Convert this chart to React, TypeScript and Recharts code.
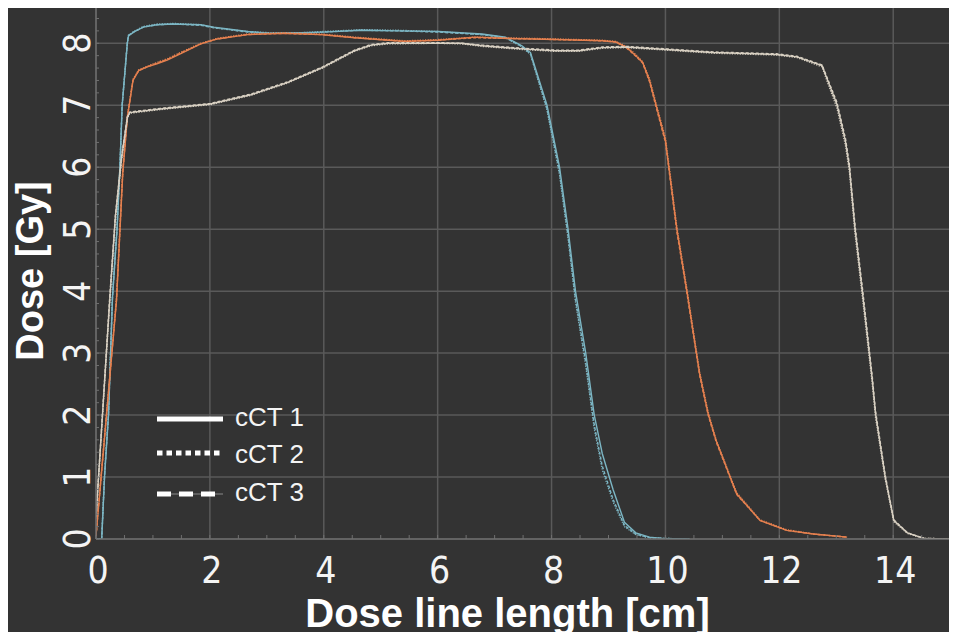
import React from 'react';
import { LineChart, Line, XAxis, YAxis, CartesianGrid, Legend } from 'recharts';

// Depth-dose profiles along the dose line, three fields x three cCT scans
const cyanX = [0, 0.1, 0.15, 0.22, 0.29, 0.37, 0.42, 0.46, 0.55, 0.57, 0.66, 0.83, 1.07, 1.36, 1.84, 2.07, 2.66, 3.07, 3.6, 3.98, 4.66, 5.3, 6.01, 6.78, 7.19, 7.48, 7.63, 7.92, 8.14, 8.29, 8.42, 8.6, 8.75, 8.89, 9.08, 9.28, 9.48, 9.72, 9.95, 10.42];
const cyanCT1 = [0, 0, 1.0, 2.0, 3.9, 5.0, 6.0, 7.0, 8.0, 8.12, 8.18, 8.26, 8.3, 8.31, 8.3, 8.26, 8.19, 8.16, 8.17, 8.18, 8.21, 8.2, 8.19, 8.15, 8.1, 7.96, 7.85, 7.0, 6.0, 5.0, 4.0, 3.0, 2.0, 1.38, 0.8, 0.27, 0.1, 0.03, 0.01, 0];
const cyanCT2 = [0, 0, 1.05, 2.05, 3.95, 5.05, 6.0, 7.0, 8.0, 8.12, 8.19, 8.27, 8.31, 8.32, 8.3, 8.25, 8.19, 8.17, 8.17, 8.19, 8.22, 8.21, 8.19, 8.14, 8.09, 7.94, 7.82, 6.92, 5.88, 4.85, 3.83, 2.8, 1.78, 1.12, 0.6, 0.2, 0.07, 0.02, 0.01, 0];
const cyanCT3 = [0, 0, 1.02, 2.02, 3.92, 5.02, 6.02, 7.02, 8.01, 8.13, 8.18, 8.26, 8.3, 8.31, 8.29, 8.25, 8.18, 8.16, 8.16, 8.18, 8.21, 8.2, 8.18, 8.14, 8.09, 7.95, 7.83, 6.95, 5.92, 4.9, 3.88, 2.86, 1.84, 1.18, 0.64, 0.22, 0.08, 0.02, 0.01, 0];

const orangeX = [0, 0.36, 0.47, 0.55, 0.65, 0.75, 0.9, 1.07, 1.25, 1.48, 1.84, 2.13, 2.66, 3.3, 3.95, 4.54, 5.13, 5.42, 6.01, 6.66, 7.13, 8.07, 8.89, 9.13, 9.31, 9.48, 9.6, 9.72, 9.83, 10.0, 10.06, 10.2, 10.38, 10.6, 10.75, 10.89, 11.25, 11.66, 12.13, 12.6, 13.19];
const orangeCT1 = [0.05, 3.85, 5.9, 6.8, 7.4, 7.56, 7.62, 7.67, 7.73, 7.83, 7.99, 8.07, 8.14, 8.16, 8.14, 8.09, 8.05, 8.03, 8.05, 8.1, 8.08, 8.06, 8.04, 8.02, 7.94, 7.8, 7.69, 7.4, 7.02, 6.43, 6.0, 5.0, 3.98, 2.67, 2.02, 1.59, 0.73, 0.3, 0.14, 0.08, 0.03];
const orangeCT2 = [0.06, 3.9, 5.95, 6.82, 7.42, 7.57, 7.63, 7.69, 7.75, 7.85, 8.0, 8.08, 8.15, 8.17, 8.15, 8.1, 8.06, 8.04, 8.06, 8.1, 8.09, 8.07, 8.05, 8.03, 7.95, 7.82, 7.7, 7.43, 7.05, 6.47, 6.05, 5.04, 4.02, 2.7, 2.05, 1.6, 0.75, 0.31, 0.15, 0.08, 0.03];
const orangeCT3 = [0.05, 3.86, 5.92, 6.8, 7.41, 7.56, 7.62, 7.68, 7.74, 7.84, 7.99, 8.07, 8.14, 8.16, 8.14, 8.09, 8.05, 8.03, 8.05, 8.09, 8.08, 8.06, 8.04, 8.02, 7.93, 7.79, 7.68, 7.38, 6.99, 6.4, 5.97, 4.96, 3.95, 2.64, 2.0, 1.57, 0.72, 0.3, 0.14, 0.08, 0.03];

const beigeX = [0, 0.24, 0.34, 0.45, 0.55, 0.59, 1.13, 2.01, 2.72, 3.37, 3.98, 4.54, 4.83, 5.13, 6.01, 6.42, 6.78, 7.48, 8.07, 8.48, 8.89, 9.31, 10.01, 10.83, 11.95, 12.31, 12.75, 12.85, 13.01, 13.16, 13.23, 13.33, 13.46, 13.63, 13.69, 13.86, 14.01, 14.25, 14.54, 15.12];
const beigeCT1 = [0.35, 3.85, 5.2, 6.16, 6.8, 6.88, 6.94, 7.02, 7.17, 7.37, 7.61, 7.88, 7.97, 8.0, 8.0, 8.0, 7.96, 7.91, 7.88, 7.88, 7.93, 7.94, 7.9, 7.85, 7.82, 7.78, 7.64, 7.4, 7.02, 6.43, 6.0, 5.0, 3.98, 2.59, 2.02, 1.0, 0.3, 0.1, 0.01, 0];
const beigeCT2 = [0.33, 3.8, 5.15, 6.12, 6.78, 6.87, 6.93, 7.01, 7.16, 7.36, 7.6, 7.87, 7.96, 7.99, 8.0, 7.99, 7.95, 7.9, 7.87, 7.87, 7.92, 7.93, 7.89, 7.84, 7.81, 7.77, 7.62, 7.36, 6.96, 6.36, 5.93, 4.92, 3.9, 2.52, 1.96, 0.96, 0.28, 0.09, 0.01, 0];
const beigeCT3 = [0.36, 3.88, 5.22, 6.18, 6.81, 6.89, 6.95, 7.03, 7.18, 7.38, 7.62, 7.89, 7.98, 8.01, 8.01, 8.0, 7.97, 7.92, 7.89, 7.89, 7.94, 7.95, 7.91, 7.86, 7.83, 7.79, 7.65, 7.42, 7.05, 6.47, 6.05, 5.06, 4.04, 2.64, 2.06, 1.03, 0.31, 0.1, 0.01, 0];

const legendNames = ['cCT 1', 'cCT 2', 'cCT 3'];
const xMajor = [0, 2, 4, 6, 8, 10, 12, 14];
const yMajor = [0, 1, 2, 3, 4, 5, 6, 7, 8];
const xTicks = Array.from({ length: 31 }, (_, i) => i / 2);
const yTicks = Array.from({ length: 44 }, (_, i) => i / 5);

const rows = (xs: number[], a: number[], b: number[], c: number[]) =>
  xs.map((x, i) => ({ x, ct1: a[i], ct2: b[i], ct3: c[i] }));

const curves = [
  { color: '#7cb6c4', data: rows(cyanX, cyanCT1, cyanCT2, cyanCT3) },
  { color: '#e5804f', data: rows(orangeX, orangeCT1, orangeCT2, orangeCT3) },
  { color: '#d8d0c2', data: rows(beigeX, beigeCT1, beigeCT2, beigeCT3) },
];

const dashes = [undefined, '1.2 1.4', '3 2'];
const legendDashes = [undefined, '5.5 4', '14 8'];

const narrow = "'Liberation Sans Narrow', 'DejaVu Sans Condensed', sans-serif";
const sans = "'Liberation Sans', Arial, sans-serif";

const isWhole = (v: number) => Math.abs(v - Math.round(v)) < 1e-6;

const XTick = ({ x, y, payload }: any) => {
  const v = payload.value;
  return (
    <g>
      <line x1={x} x2={x} y1={y} y2={y - 4} stroke="#707070" strokeWidth={1} />
      {isWhole(v) && Math.round(v) % 2 === 0 && (
        <text x={x + 2} y={y + 44} textAnchor="middle" fill="#f4f4f4" fontSize={37} fontFamily={narrow}>
          {Math.round(v)}
        </text>
      )}
    </g>
  );
};

const YTick = ({ x, y, payload }: any) => {
  const v = payload.value;
  const bx = x - 6;
  return (
    <g>
      <line x1={x} x2={x + 3} y1={y} y2={y} stroke="#707070" strokeWidth={1} />
      {isWhole(v) && (
        <text x={bx} y={y} transform={`rotate(-90 ${bx} ${y})`} textAnchor="middle" fill="#f4f4f4" fontSize={37} fontFamily={narrow}>
          {Math.round(v)}
        </text>
      )}
    </g>
  );
};

const LegendBox = () => (
  <svg width={170} height={110}>
    {legendNames.map((name, i) => {
      const ly = [19, 53, 94][i];
      const ty = [25.5, 62.5, 100.5][i];
      return (
        <g key={name}>
          {i === 2 && <line x1={7} x2={73} y1={ly} y2={ly} stroke="#8a8a8a" strokeWidth={1} />}
          <line x1={7} x2={73} y1={ly} y2={ly} stroke="#ffffff" strokeWidth={5} strokeDasharray={legendDashes[i]} />
          <text x={85} y={ty} fill="#f4f4f4" fontSize={26} fontFamily={sans}>{name}</text>
        </g>
      );
    })}
  </svg>
);

export default function App() {
  return (
    <div style={{ margin: -8, width: 957, height: 640, position: 'relative', overflow: 'hidden', background: '#333333' }}>
      <div style={{ position: 'absolute', left: 0, top: 0, width: 957, height: 3, background: 'linear-gradient(#bcbcbc, #8c8c8c)' }} />
      <div style={{ position: 'absolute', left: 0, top: 0, width: 7, height: 640, background: 'linear-gradient(#ececec 0px, #a8a8a8 35px, #464646 100px, #3b3b3b 100%)' }} />
      <LineChart width={957} height={640} margin={{ top: 3, right: 0, bottom: 0, left: 0 }} style={{ position: 'absolute', left: 0, top: 0 }}>
        <CartesianGrid
          xAxisId={0}
          yAxisId="l"
          verticalValues={xMajor}
          horizontalValues={yMajor}
          stroke="#5a5a5a"
          strokeWidth={1.5}
        />
        <XAxis
          dataKey="x"
          type="number"
          domain={[0, 15.12]}
          allowDataOverflow
          ticks={xTicks}
          interval={0}
          height={101}
          tickSize={0}
          tickMargin={0}
          tickLine={false}
          tick={<XTick />}
          axisLine={{ stroke: '#6a6a6a', strokeWidth: 1.5 }}
          label={{
            content: ({ viewBox }: any) => (
              <text x={viewBox.x + viewBox.width / 2 - 19} y={viewBox.y + 88} textAnchor="middle" fill="#ffffff" fontSize={40} fontWeight="bold" fontFamily={sans}>
                Dose line length [cm]
              </text>
            ),
          }}
        />
        <YAxis
          yAxisId="l"
          type="number"
          domain={[0, 8.65]}
          allowDataOverflow
          ticks={yTicks}
          interval={0}
          width={96}
          tickSize={0}
          tickMargin={0}
          tickLine={false}
          tick={<YTick />}
          axisLine={{ stroke: '#6a6a6a', strokeWidth: 1.5 }}
          label={{
            content: ({ viewBox }: any) => {
              const cx = 43;
              const cy = viewBox.y + viewBox.height / 2;
              return (
                <text x={cx} y={cy} transform={`rotate(-90 ${cx} ${cy})`} textAnchor="middle" fill="#ffffff" fontSize={38} fontWeight="bold" fontFamily={sans}>
                  Dose [Gy]
                </text>
              );
            },
          }}
        />
        <YAxis
          yAxisId="r"
          orientation="right"
          type="number"
          domain={[0, 8.65]}
          allowDataOverflow
          ticks={yTicks}
          interval={0}
          width={4}
          mirror
          tick={false}
          tickSize={3}
          tickLine={{ stroke: '#707070' }}
          axisLine={false}
        />
        <Legend
          layout="vertical"
          align="center"
          verticalAlign="middle"
          content={<LegendBox />}
          wrapperStyle={{ left: 150, top: 400, width: 170, height: 110 }}
        />
        {curves.map((c, ci) =>
          ['ct3', 'ct2', 'ct1'].map((key) => {
            const k = Number(key.slice(2)) - 1;
            return (
              <Line
                key={`${ci}-${key}`}
                yAxisId="l"
                data={c.data}
                dataKey={key}
                type="linear"
                stroke={c.color}
                strokeWidth={1.4}
                strokeDasharray={dashes[k]}
                dot={false}
                activeDot={false}
                legendType="none"
                isAnimationActive={false}
              />
            );
          })
        )}
      </LineChart>
    </div>
  );
}
